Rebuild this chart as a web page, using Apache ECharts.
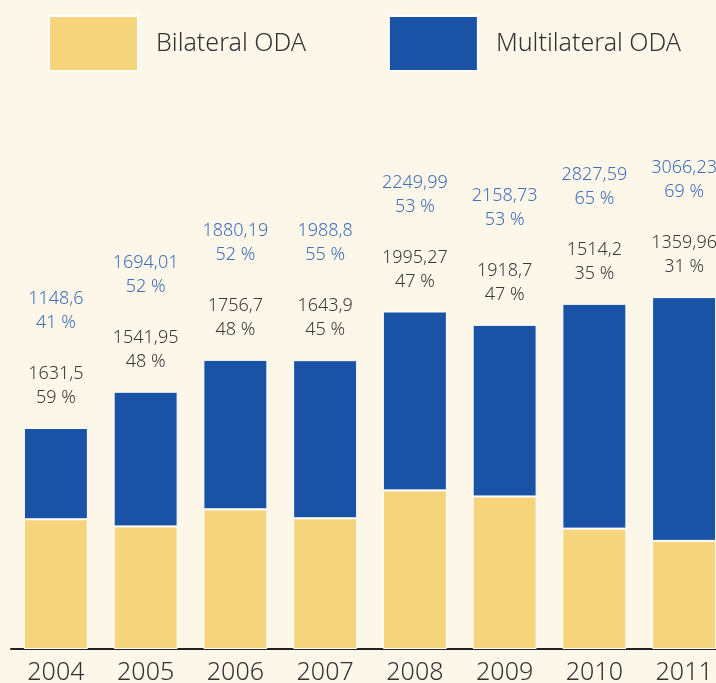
<!DOCTYPE html>
<html>
<head>
<meta charset="utf-8">
<script src="https://cdn.jsdelivr.net/npm/echarts@6/dist/echarts.min.js"></script>
<style>
html,body{margin:0;padding:0;background:#fdf7ea;}
#c{width:716px;height:683px;}
</style>
</head>
<body>
<div id="c"></div>
<script>
var years = ['2004','2005','2006','2007','2008','2009','2010','2011'];
var bilateral = [1631.5, 1541.95, 1756.7, 1643.9, 1995.27, 1918.7, 1514.2, 1359.96];
var multilateral = [1148.6, 1694.01, 1880.19, 1988.8, 2249.99, 2158.73, 2827.59, 3066.23];
var pctBilateral = [59, 48, 48, 45, 47, 47, 35, 31];
var pctMultilateral = [41, 52, 52, 55, 53, 53, 65, 69];

var FONT = '"Noto Sans", "Open Sans", sans-serif';
function fmt(v){ return String(v).replace('.', ','); }

var chart = echarts.init(document.getElementById('c'), null, {renderer:'canvas'});
chart.setOption({
  backgroundColor: '#fdf7ea',
  animation: false,
  textStyle: {fontFamily: FONT, fontWeight: 300},
  legend: {
    left: 48, top: 15, padding: 0,
    itemWidth: 89, itemHeight: 55,
    itemGap: 82,
    icon: 'rect',
    textStyle: {fontFamily: FONT, fontWeight: 300, fontSize: 25, color: '#333', padding: [0,0,0,13]},
    data: ['Bilateral ODA', 'Multilateral ODA']
  },
  grid: {left: 11, width: 718, top: 13, bottom: 34, containLabel: false, outerBoundsMode: 'none'},
  xAxis: {
    type: 'category', data: years,
    axisLine: {lineStyle: {color: '#222', width: 2}},
    axisTick: {show: false},
    axisLabel: {fontFamily: FONT, fontWeight: 300, fontSize: 25, color: '#333', margin: 11}
  },
  yAxis: {
    type: 'value', min: 0, max: 8000,
    show: false, splitLine: {show: false}
  },
  series: [
    {
      name: 'Bilateral ODA', type: 'bar', stack: 'oda',
      data: bilateral, barWidth: 64,
      itemStyle: {color: '#f6d47c', borderColor: '#ffffff', borderWidth: 1}
    },
    {
      name: 'Multilateral ODA', type: 'bar', stack: 'oda',
      data: multilateral, barWidth: 64,
      itemStyle: {color: '#1a53a5', borderColor: '#ffffff', borderWidth: 1},
      label: {
        show: true, position: 'top', distance: 18,
        formatter: function(p){
          var i = p.dataIndex;
          return '{m|' + fmt(multilateral[i]) + '}\n{m|' + pctMultilateral[i] + ' %}\n{g| }\n{k|' + fmt(bilateral[i]) + '}\n{k|' + pctBilateral[i] + ' %}';
        },
        rich: {
          m: {color: '#4070ba', fontSize: 18, lineHeight: 24, fontFamily: FONT, fontWeight: 300},
          k: {color: '#3a3a3a', fontSize: 18, lineHeight: 24, fontFamily: FONT, fontWeight: 300},
          g: {fontSize: 10, lineHeight: 27}
        }
      }
    }
  ]
});
</script>
</body>
</html>
